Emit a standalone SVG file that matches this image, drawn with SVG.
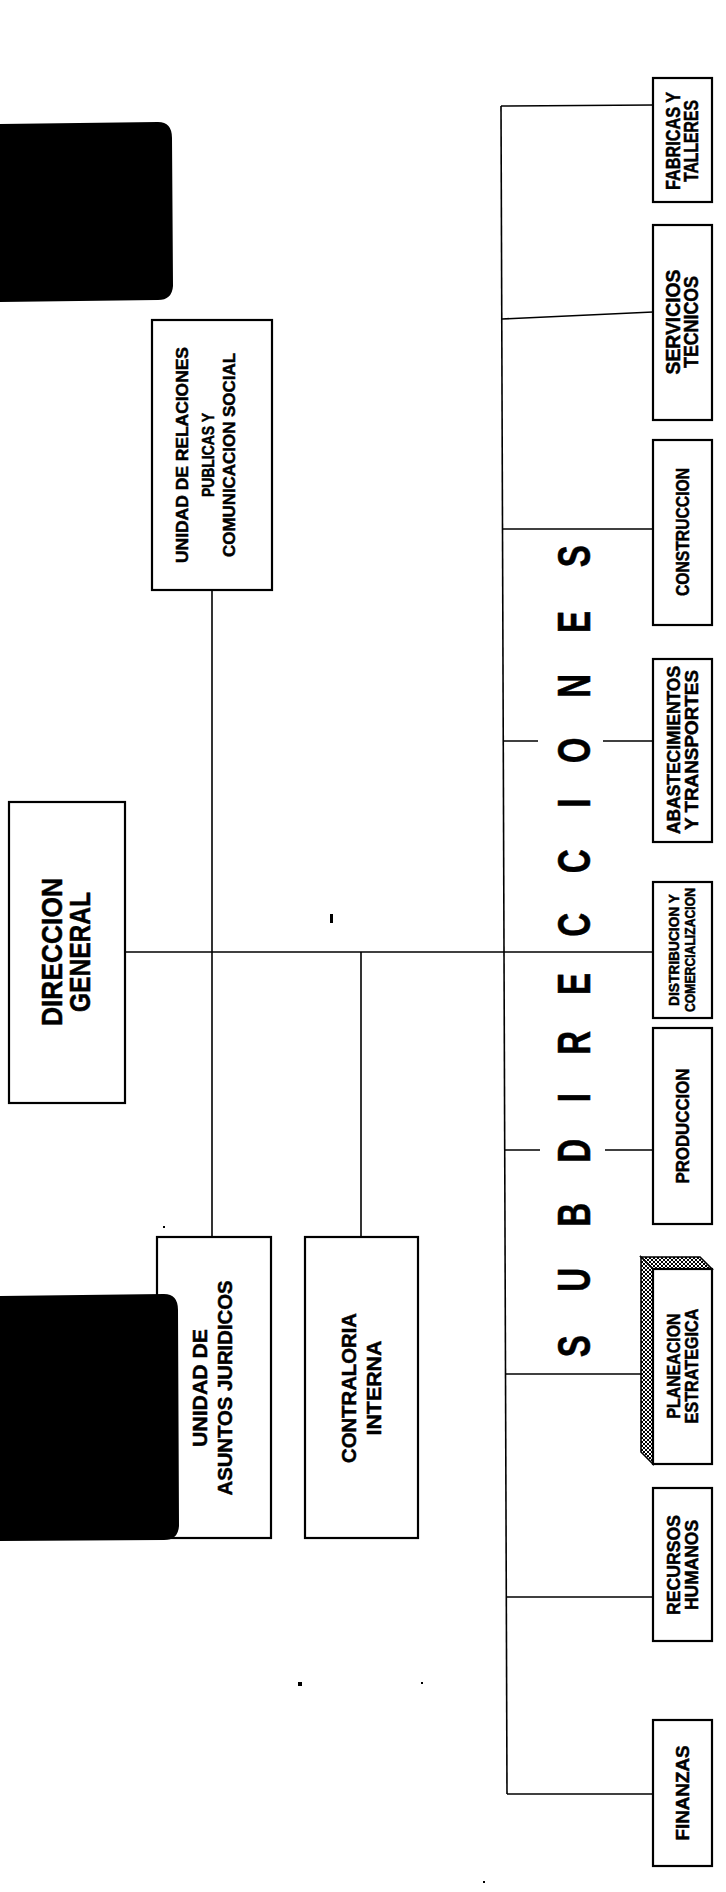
<svg xmlns="http://www.w3.org/2000/svg" width="726" height="1892" viewBox="0 0 726 1892">
<style>
.box{fill:#fff;stroke:#000;stroke-width:2.2}
.conn{stroke:#000;stroke-width:1.6;fill:none}
.t{font-family:"Liberation Sans",Arial,sans-serif;font-weight:bold;fill:#000;stroke:#000;stroke-width:0.5;text-anchor:middle}
.blob{fill:#000}
.speck{fill:#000}
</style>
<defs>
<pattern id="hatch" width="4" height="4" patternUnits="userSpaceOnUse">
<rect width="4" height="4" fill="#fff"/>
<path d="M0,0 L4,4 M4,0 L0,4" stroke="#000" stroke-width="1"/>
</pattern>
</defs>
<rect width="726" height="1892" fill="#fff"/>

<g id="connectors">
<line class="conn" x1="501" y1="106" x2="507" y2="1794"/>
<line class="conn" x1="501" y1="106" x2="653" y2="105"/>
<line class="conn" x1="502" y1="319" x2="653" y2="312"/>
<line class="conn" x1="502" y1="529" x2="653" y2="529"/>
<line class="conn" x1="503" y1="741" x2="538" y2="741"/>
<line class="conn" x1="603" y1="741" x2="653" y2="741"/>
<line class="conn" x1="125" y1="952" x2="653" y2="952"/>
<line class="conn" x1="504" y1="1150" x2="540" y2="1150"/>
<line class="conn" x1="605" y1="1150" x2="653" y2="1150"/>
<line class="conn" x1="505" y1="1374" x2="641" y2="1374"/>
<line class="conn" x1="506" y1="1597" x2="653" y2="1597"/>
<line class="conn" x1="507" y1="1794" x2="653" y2="1794"/>
<line class="conn" x1="212" y1="590" x2="212" y2="1237"/>
<line class="conn" x1="361" y1="952" x2="361" y2="1237"/>
</g>

<path class="blob" d="M0,124 L158,122 Q172,122 172,138 L173,286 Q172,300 158,300 L0,302 Z"/>

<g id="direccion-general">
<rect class="box" x="9" y="802" width="116" height="301"/>
<text class="t" font-size="30" textLength="148" lengthAdjust="spacingAndGlyphs" transform="translate(62,952) rotate(-90)">DIRECCION</text>
<text class="t" font-size="30" textLength="120" lengthAdjust="spacingAndGlyphs" transform="translate(90,952) rotate(-90)">GENERAL</text>
</g>

<g id="unidad-relaciones">
<rect class="box" x="152" y="320" width="120" height="270"/>
<text class="t" font-size="16" textLength="216" lengthAdjust="spacingAndGlyphs" transform="translate(188,455) rotate(-90)">UNIDAD DE RELACIONES</text>
<text class="t" font-size="16" textLength="84" lengthAdjust="spacingAndGlyphs" transform="translate(214,455) rotate(-90)">PUBLICAS Y</text>
<text class="t" font-size="16" textLength="204" lengthAdjust="spacingAndGlyphs" transform="translate(235,455) rotate(-90)">COMUNICACION SOCIAL</text>
</g>

<g id="asuntos-juridicos">
<rect class="box" x="157" y="1237" width="114" height="301"/>
<text class="t" font-size="21" textLength="118" lengthAdjust="spacingAndGlyphs" transform="translate(207,1388) rotate(-90)">UNIDAD DE</text>
<text class="t" font-size="21" textLength="215" lengthAdjust="spacingAndGlyphs" transform="translate(232,1388) rotate(-90)">ASUNTOS JURIDICOS</text>
</g>
<path class="blob" d="M0,1296 L164,1294 Q178,1294 178,1310 L179,1526 Q178,1540 164,1540 L0,1541 Z"/>

<g id="contraloria-interna">
<rect class="box" x="305" y="1237" width="113" height="301"/>
<text class="t" font-size="21" textLength="150" lengthAdjust="spacingAndGlyphs" transform="translate(356,1388) rotate(-90)">CONTRALORIA</text>
<text class="t" font-size="21" textLength="95" lengthAdjust="spacingAndGlyphs" transform="translate(381,1388) rotate(-90)">INTERNA</text>
</g>

<g id="subdirecciones-label">
<text class="t" font-size="46" style="text-anchor:start" transform="translate(590,0) rotate(-90) scale(0.72,1)" x="-1885 -1794 -1704 -1615 -1531 -1465 -1382 -1301 -1213 -1122 -1060 -969 -879 -788">SUBDIRECCIONES</text>
</g>

<g id="fabricas-talleres">
<rect class="box" x="653" y="78" width="59" height="124"/>
<text class="t" font-size="20" textLength="98" lengthAdjust="spacingAndGlyphs" transform="translate(680,141) rotate(-90)">FABRICAS Y</text>
<text class="t" font-size="20" textLength="82" lengthAdjust="spacingAndGlyphs" transform="translate(698,141) rotate(-90)">TALLERES</text>
</g>

<g id="servicios-tecnicos">
<rect class="box" x="653" y="225" width="59" height="195"/>
<text class="t" font-size="20" textLength="105" lengthAdjust="spacingAndGlyphs" transform="translate(680,322) rotate(-90)">SERVICIOS</text>
<text class="t" font-size="20" textLength="92" lengthAdjust="spacingAndGlyphs" transform="translate(698,322) rotate(-90)">TECNICOS</text>
</g>

<g id="construccion">
<rect class="box" x="653" y="440" width="59" height="185"/>
<text class="t" font-size="18" textLength="128" lengthAdjust="spacingAndGlyphs" transform="translate(689,532) rotate(-90)">CONSTRUCCION</text>
</g>

<g id="abastecimientos">
<rect class="box" x="653" y="659" width="59" height="183"/>
<text class="t" font-size="18" textLength="168" lengthAdjust="spacingAndGlyphs" transform="translate(680,750) rotate(-90)">ABASTECIMIENTOS</text>
<text class="t" font-size="18" textLength="160" lengthAdjust="spacingAndGlyphs" transform="translate(698,750) rotate(-90)">Y TRANSPORTES</text>
</g>

<g id="distribucion">
<rect class="box" x="653" y="882" width="59" height="136"/>
<text class="t" font-size="14" textLength="112" lengthAdjust="spacingAndGlyphs" transform="translate(679,950) rotate(-90)">DISTRIBUCION Y</text>
<text class="t" font-size="14" textLength="124" lengthAdjust="spacingAndGlyphs" transform="translate(695,950) rotate(-90)">COMERCIALIZACION</text>
</g>

<g id="produccion">
<rect class="box" x="653" y="1028" width="59" height="196"/>
<text class="t" font-size="18" textLength="115" lengthAdjust="spacingAndGlyphs" transform="translate(689,1126) rotate(-90)">PRODUCCION</text>
</g>

<g id="planeacion">
<polygon points="641,1257 700,1257 712,1269 653,1269" fill="url(#hatch)" stroke="#000" stroke-width="1.6"/>
<polygon points="641,1257 653,1269 653,1464 641,1452" fill="url(#hatch)" stroke="#000" stroke-width="1.6"/>
<rect class="box" x="653" y="1269" width="59" height="195"/>
<text class="t" font-size="18" textLength="105" lengthAdjust="spacingAndGlyphs" transform="translate(680,1366) rotate(-90)">PLANEACION</text>
<text class="t" font-size="18" textLength="115" lengthAdjust="spacingAndGlyphs" transform="translate(698,1366) rotate(-90)">ESTRATEGICA</text>
</g>

<g id="recursos-humanos">
<rect class="box" x="653" y="1488" width="59" height="153"/>
<text class="t" font-size="18" textLength="100" lengthAdjust="spacingAndGlyphs" transform="translate(680,1565) rotate(-90)">RECURSOS</text>
<text class="t" font-size="18" textLength="90" lengthAdjust="spacingAndGlyphs" transform="translate(698,1565) rotate(-90)">HUMANOS</text>
</g>

<g id="finanzas">
<rect class="box" x="653" y="1720" width="59" height="146"/>
<text class="t" font-size="18" textLength="95" lengthAdjust="spacingAndGlyphs" transform="translate(689,1793) rotate(-90)">FINANZAS</text>
</g>

<rect class="speck" x="330" y="914" width="3" height="9"/>
<rect class="speck" x="163" y="1226" width="2" height="2"/>
<rect class="speck" x="298" y="1682" width="4" height="4"/>
<rect class="speck" x="421" y="1682" width="2" height="2"/>
<rect class="speck" x="483" y="1881" width="2" height="2"/>
</svg>
